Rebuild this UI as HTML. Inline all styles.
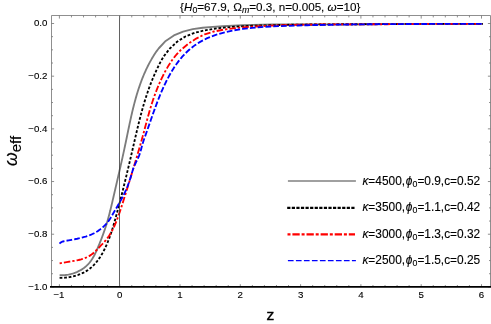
<!DOCTYPE html>
<html><head><meta charset="utf-8"><title>plot</title>
<style>
html,body{margin:0;padding:0;background:#fff;}
body{width:491px;height:324px;overflow:hidden;}
svg{display:block;will-change:transform;}
text{font-family:"Liberation Sans",sans-serif;fill:#000;stroke:#000;stroke-width:0.12px;}
.i{font-style:italic;}
</style></head><body>
<svg width="491" height="324" viewBox="0 0 491 324">
<rect width="491" height="324" fill="#fff"/>
<g fill="none" stroke-linejoin="round">
<path d="M59.60 275.29 L61.04 275.29 L62.50 275.24 L63.95 275.15 L65.41 275.00 L66.87 274.80 L68.32 274.56 L69.62 274.30 L69.77 274.26 L71.20 273.92 L72.62 273.52 L74.03 273.08 L75.41 272.59 L76.77 272.04 L78.11 271.45 L79.14 270.94 L79.41 270.80 L80.69 270.11 L81.93 269.36 L83.13 268.56 L84.29 267.71 L85.41 266.81 L86.48 265.86 L87.18 265.19 L87.50 264.86 L88.48 263.82 L89.42 262.73 L90.31 261.61 L91.16 260.45 L91.98 259.25 L92.75 258.03 L93.18 257.31 L93.49 256.78 L94.20 255.51 L94.87 254.22 L95.52 252.91 L96.14 251.59 L96.74 250.25 L97.32 248.92 L97.59 248.28 L97.89 247.57 L98.46 246.23 L99.02 244.88 L99.57 243.53 L100.11 242.18 L100.65 240.83 L101.18 239.47 L101.37 238.98 L101.70 238.12 L102.21 236.76 L102.72 235.40 L103.22 234.04 L103.70 232.67 L104.18 231.30 L104.66 229.93 L104.78 229.58 L105.12 228.56 L105.57 227.18 L106.01 225.81 L106.45 224.42 L106.87 223.04 L107.29 221.65 L107.69 220.26 L107.75 220.04 L108.09 218.86 L108.47 217.46 L108.85 216.06 L109.22 214.66 L109.58 213.25 L109.94 211.84 L110.29 210.43 L110.31 210.36 L110.64 209.02 L110.98 207.61 L111.32 206.19 L111.65 204.78 L111.99 203.36 L112.32 201.94 L112.62 200.61 L112.64 200.53 L112.97 199.11 L113.30 197.69 L113.62 196.28 L113.95 194.86 L114.27 193.45 L114.60 192.03 L114.88 190.85 L114.93 190.62 L115.26 189.20 L115.58 187.79 L115.91 186.37 L116.24 184.96 L116.56 183.54 L116.89 182.13 L117.13 181.10 L117.22 180.72 L117.54 179.30 L117.87 177.89 L118.19 176.48 L118.52 175.06 L118.84 173.65 L119.17 172.24 L119.37 171.35 L119.49 170.82 L119.81 169.41 L120.13 167.99 L120.46 166.58 L120.77 165.17 L121.09 163.75 L121.41 162.34 L121.58 161.60 L121.73 160.92 L122.04 159.50 L122.36 158.09 L122.67 156.67 L122.98 155.25 L123.29 153.83 L123.60 152.41 L123.73 151.83 L123.91 151.00 L124.22 149.58 L124.52 148.15 L124.82 146.73 L125.12 145.31 L125.42 143.89 L125.72 142.46 L125.81 142.03 L126.02 141.04 L126.31 139.61 L126.61 138.19 L126.90 136.76 L127.19 135.34 L127.49 133.91 L127.78 132.48 L127.84 132.20 L128.08 131.06 L128.37 129.63 L128.67 128.21 L128.97 126.78 L129.27 125.36 L129.57 123.93 L129.87 122.51 L129.90 122.37 L130.18 121.08 L130.49 119.66 L130.80 118.24 L131.12 116.82 L131.44 115.40 L131.76 113.99 L132.09 112.58 L132.09 112.57 L132.42 111.15 L132.76 109.74 L133.10 108.33 L133.45 106.92 L133.81 105.51 L134.17 104.11 L134.49 102.87 L134.53 102.71 L134.91 101.31 L135.29 99.91 L135.67 98.51 L136.07 97.12 L136.47 95.73 L136.88 94.34 L137.21 93.26 L137.30 92.95 L137.73 91.57 L138.16 90.19 L138.61 88.82 L139.06 87.45 L139.53 86.08 L140.00 84.71 L140.33 83.80 L140.49 83.35 L140.99 81.99 L141.49 80.64 L142.01 79.29 L142.54 77.94 L143.08 76.60 L143.63 75.26 L143.95 74.51 L144.20 73.93 L144.78 72.60 L145.37 71.28 L145.98 69.96 L146.59 68.65 L147.23 67.34 L147.87 66.03 L148.17 65.43 L148.53 64.73 L149.21 63.44 L149.90 62.15 L150.60 60.87 L151.33 59.59 L152.06 58.32 L152.82 57.06 L153.09 56.61 L153.59 55.80 L154.37 54.55 L155.18 53.31 L156.01 52.09 L156.85 50.88 L157.72 49.69 L158.61 48.52 L158.84 48.24 L165.70 40.98 L173.88 35.44 L183.05 31.56 L192.76 29.10 L202.68 27.72 L212.68 26.89 L222.69 26.24 L232.70 25.70 L242.70 25.28 L252.71 24.95 L262.72 24.71 L272.73 24.54 L282.73 24.43 L292.74 24.36 L302.75 24.34 L312.76 24.34 L322.77 24.35 L332.78 24.35 L342.80 24.35 L352.81 24.32 L362.82 24.28 L372.84 24.23 L382.86 24.16 L392.87 24.10 L402.89 24.03 L412.90 23.96 L422.92 23.90 L432.94 23.85 L442.95 23.82 L452.96 23.80 L462.98 23.81 L472.99 23.84 L483.00 23.90" stroke="#7c7c7c" stroke-width="1.85"/>
<path d="M59.60 277.90 L61.03 277.88 L62.47 277.83 L63.92 277.75 L65.38 277.63 L66.83 277.47 L68.28 277.28 L69.53 277.08 L69.74 277.05 L71.18 276.78 L72.62 276.47 L74.05 276.12 L75.47 275.74 L76.88 275.31 L78.27 274.85 L79.25 274.49 L79.64 274.34 L80.99 273.79 L82.32 273.20 L83.62 272.56 L84.90 271.89 L86.15 271.17 L87.36 270.40 L88.05 269.94 L88.55 269.59 L89.70 268.74 L90.81 267.84 L91.89 266.90 L92.93 265.92 L93.95 264.91 L94.93 263.86 L95.34 263.39 L95.88 262.78 L96.80 261.66 L97.69 260.52 L98.55 259.35 L99.39 258.15 L100.20 256.94 L100.98 255.70 L101.20 255.33 L101.73 254.44 L102.47 253.17 L103.17 251.88 L103.86 250.58 L104.52 249.27 L105.16 247.95 L105.79 246.62 L105.88 246.42 L106.39 245.29 L106.97 243.95 L107.53 242.61 L108.08 241.26 L108.61 239.91 L109.13 238.56 L109.63 237.20 L109.63 237.19 L110.12 235.83 L110.59 234.47 L111.06 233.09 L111.51 231.72 L111.95 230.34 L112.39 228.96 L112.75 227.76 L112.81 227.58 L113.23 226.19 L113.64 224.80 L114.05 223.41 L114.45 222.02 L114.85 220.63 L115.24 219.23 L115.52 218.22 L115.63 217.83 L116.02 216.43 L116.40 215.03 L116.78 213.63 L117.16 212.23 L117.54 210.83 L117.91 209.42 L118.13 208.60 L118.28 208.02 L118.65 206.61 L119.02 205.21 L119.38 203.80 L119.75 202.39 L120.11 200.99 L120.47 199.58 L120.63 198.96 L120.83 198.17 L121.19 196.76 L121.55 195.36 L121.90 193.95 L122.26 192.54 L122.61 191.13 L122.96 189.72 L123.07 189.30 L123.31 188.31 L123.66 186.90 L124.01 185.50 L124.35 184.09 L124.70 182.68 L125.04 181.27 L125.39 179.85 L125.44 179.63 L125.73 178.44 L126.07 177.03 L126.41 175.62 L126.75 174.21 L127.09 172.80 L127.42 171.39 L127.76 169.97 L127.77 169.95 L128.10 168.56 L128.43 167.15 L128.76 165.74 L129.10 164.32 L129.43 162.91 L129.76 161.50 L130.05 160.26 L130.09 160.08 L130.43 158.67 L130.76 157.25 L131.09 155.84 L131.41 154.43 L131.74 153.01 L132.07 151.60 L132.31 150.56 L132.40 150.18 L132.73 148.77 L133.05 147.35 L133.38 145.93 L133.71 144.52 L134.04 143.10 L134.36 141.68 L134.55 140.85 L134.69 140.27 L135.02 138.85 L135.34 137.44 L135.67 136.02 L136.00 134.60 L136.33 133.19 L136.66 131.77 L136.81 131.14 L137.00 130.36 L137.33 128.94 L137.67 127.53 L138.01 126.12 L138.36 124.70 L138.70 123.29 L139.05 121.88 L139.16 121.45 L139.40 120.47 L139.76 119.07 L140.12 117.66 L140.48 116.25 L140.85 114.85 L141.22 113.44 L141.60 112.04 L141.66 111.81 L141.98 110.64 L142.37 109.24 L142.76 107.85 L143.16 106.45 L143.56 105.06 L143.97 103.66 L144.38 102.27 L144.39 102.24 L144.80 100.89 L145.23 99.50 L145.67 98.12 L146.11 96.74 L146.56 95.36 L147.01 93.98 L147.42 92.77 L147.48 92.61 L147.95 91.24 L148.43 89.87 L148.92 88.50 L149.41 87.14 L149.92 85.78 L150.43 84.42 L150.82 83.41 L150.96 83.06 L151.49 81.71 L152.03 80.36 L152.58 79.02 L153.13 77.68 L153.70 76.34 L154.28 75.00 L154.63 74.20 L154.86 73.67 L155.46 72.34 L156.06 71.01 L156.67 69.69 L157.30 68.37 L157.93 67.06 L158.57 65.75 L158.87 65.15 L159.23 64.44 L159.90 63.14 L160.58 61.86 L161.29 60.58 L162.01 59.31 L162.76 58.06 L163.53 56.83 L163.78 56.44 L164.33 55.61 L169.84 48.53 L177.08 41.77 L185.41 36.47 L194.67 32.82 L204.39 30.39 L214.21 28.74 L224.09 27.59 L234.01 26.75 L243.94 26.15 L253.89 25.72 L263.85 25.39 L273.81 25.12 L283.77 24.89 L293.73 24.71 L303.69 24.57 L313.65 24.46 L323.61 24.37 L333.57 24.31 L343.53 24.26 L353.50 24.22 L363.46 24.19 L373.42 24.15 L383.38 24.11 L393.35 24.07 L403.31 24.02 L413.27 23.98 L423.23 23.94 L433.19 23.90 L443.15 23.88 L453.11 23.86 L463.08 23.86 L473.04 23.87 L483.00 23.90" stroke="#000" stroke-width="1.85" stroke-dasharray="2.75 1.8"/>
<path d="M59.60 263.40 L60.97 263.10 L62.36 262.82 L63.77 262.57 L65.20 262.32 L66.64 262.09 L68.09 261.87 L69.00 261.73 L69.55 261.64 L71.01 261.42 L72.47 261.18 L73.93 260.93 L75.39 260.67 L76.84 260.38 L78.28 260.07 L78.64 259.99 L79.71 259.73 L81.12 259.36 L82.51 258.94 L83.88 258.48 L85.22 257.98 L86.53 257.42 L87.66 256.88 L87.82 256.80 L89.07 256.12 L90.28 255.38 L91.45 254.57 L92.59 253.69 L93.70 252.77 L94.78 251.80 L95.31 251.30 L95.84 250.79 L96.88 249.75 L97.91 248.69 L98.93 247.62 L99.94 246.55 L100.96 245.48 L101.98 244.42 L102.10 244.28 L102.98 243.35 L103.98 242.28 L104.95 241.19 L105.88 240.09 L106.79 238.96 L107.65 237.81 L108.28 236.93 L108.49 236.63 L109.29 235.44 L110.06 234.22 L110.80 232.99 L111.52 231.73 L112.20 230.47 L112.87 229.18 L113.11 228.70 L113.51 227.89 L114.13 226.57 L114.72 225.25 L115.30 223.92 L115.86 222.58 L116.41 221.22 L116.93 219.87 L116.94 219.86 L117.45 218.50 L117.95 217.13 L118.45 215.76 L118.93 214.38 L119.41 213.00 L119.88 211.63 L120.17 210.76 L120.34 210.25 L120.80 208.87 L121.25 207.48 L121.70 206.10 L122.14 204.72 L122.58 203.34 L123.02 201.95 L123.13 201.61 L123.45 200.57 L123.88 199.19 L124.32 197.80 L124.75 196.42 L125.18 195.03 L125.61 193.65 L125.98 192.43 L126.04 192.26 L126.47 190.88 L126.90 189.49 L127.32 188.11 L127.75 186.72 L128.18 185.33 L128.61 183.95 L128.83 183.25 L129.04 182.56 L129.47 181.17 L129.90 179.79 L130.32 178.40 L130.75 177.01 L131.18 175.62 L131.60 174.23 L131.65 174.06 L132.02 172.84 L132.45 171.46 L132.87 170.07 L133.29 168.68 L133.71 167.29 L134.13 165.90 L134.45 164.85 L134.55 164.50 L134.97 163.11 L135.39 161.72 L135.80 160.33 L136.22 158.94 L136.63 157.54 L137.04 156.15 L137.19 155.62 L137.45 154.76 L137.86 153.36 L138.26 151.97 L138.67 150.57 L139.07 149.18 L139.47 147.78 L139.87 146.38 L139.87 146.38 L140.27 144.99 L140.67 143.59 L141.06 142.19 L141.45 140.79 L141.84 139.39 L142.23 138.00 L142.47 137.11 L142.62 136.60 L143.00 135.19 L143.38 133.79 L143.76 132.39 L144.14 130.99 L144.51 129.59 L144.89 128.18 L144.98 127.83 L145.26 126.78 L145.63 125.38 L146.01 123.98 L146.38 122.57 L146.76 121.17 L147.14 119.77 L147.47 118.54 L147.52 118.37 L147.90 116.97 L148.29 115.57 L148.68 114.17 L149.07 112.78 L149.48 111.38 L149.88 109.99 L150.09 109.29 L150.29 108.60 L150.71 107.21 L151.14 105.82 L151.57 104.44 L152.01 103.05 L152.46 101.67 L152.91 100.29 L152.97 100.11 L153.38 98.92 L153.86 97.54 L154.34 96.17 L154.84 94.81 L155.34 93.44 L155.86 92.08 L156.25 91.06 L156.38 90.73 L156.92 89.37 L157.46 88.02 L158.02 86.68 L158.58 85.34 L159.15 84.00 L159.74 82.67 L159.96 82.16 L160.33 81.34 L160.94 80.01 L161.55 78.69 L162.18 77.38 L162.81 76.07 L163.46 74.76 L164.12 73.46 L164.12 73.46 L164.79 72.17 L165.48 70.89 L166.17 69.62 L166.89 68.36 L167.62 67.10 L168.36 65.86 L168.84 65.08 L169.13 64.63 L169.91 63.41 L170.70 62.20 L171.52 61.01 L172.36 59.83 L173.21 58.66 L174.09 57.52 L174.32 57.22 L174.98 56.38 L175.90 55.27 L176.85 54.17 L177.81 53.09 L178.80 52.03 L179.82 50.99 L180.73 50.09 L180.85 49.97 L188.14 43.88 L196.19 38.59 L204.75 34.27 L213.91 31.50 L223.38 29.70 L232.94 28.39 L242.51 27.45 L252.10 26.73 L261.70 26.14 L271.30 25.66 L280.91 25.28 L290.53 24.98 L300.14 24.75 L309.77 24.59 L319.39 24.48 L329.02 24.41 L338.65 24.37 L348.28 24.34 L357.90 24.33 L367.53 24.30 L377.16 24.27 L386.78 24.21 L396.40 24.15 L406.02 24.08 L415.64 24.02 L425.26 23.95 L434.88 23.89 L444.50 23.85 L454.12 23.83 L463.75 23.82 L473.37 23.85 L483.00 23.90" stroke="#f00" stroke-width="1.85" stroke-dasharray="2.3 2.05 6.5 2.05"/>
<path d="M59.49 243.69 L60.53 242.66 L61.73 241.95 L63.04 241.48 L64.42 241.15 L65.84 240.88 L67.25 240.62 L67.77 240.52 L68.68 240.36 L70.10 240.10 L71.53 239.84 L72.96 239.57 L74.39 239.30 L75.82 239.01 L76.86 238.80 L77.25 238.72 L78.67 238.41 L80.09 238.08 L81.50 237.74 L82.90 237.37 L84.30 236.98 L85.69 236.56 L85.81 236.52 L87.06 236.11 L88.43 235.63 L89.78 235.12 L91.12 234.57 L92.44 233.98 L93.75 233.35 L94.34 233.05 L95.04 232.67 L96.32 231.95 L97.57 231.18 L98.80 230.37 L100.00 229.51 L101.17 228.62 L102.10 227.86 L102.31 227.68 L103.42 226.70 L104.48 225.69 L105.51 224.64 L106.49 223.56 L107.42 222.44 L108.30 221.30 L108.45 221.09 L109.14 220.12 L109.93 218.92 L110.70 217.71 L111.44 216.47 L112.17 215.23 L112.89 213.98 L113.28 213.31 L113.61 212.73 L114.35 211.48 L115.08 210.23 L115.82 208.97 L116.56 207.72 L117.30 206.46 L117.97 205.33 L118.04 205.20 L118.77 203.94 L119.50 202.68 L120.21 201.41 L120.92 200.13 L121.62 198.85 L122.30 197.57 L122.48 197.23 L122.97 196.28 L123.62 194.98 L124.26 193.68 L124.88 192.37 L125.48 191.05 L126.07 189.73 L126.43 188.90 L126.64 188.40 L127.20 187.07 L127.73 185.72 L128.25 184.37 L128.76 183.01 L129.24 181.65 L129.70 180.29 L129.71 180.27 L130.16 178.89 L130.59 177.50 L131.01 176.11 L131.41 174.71 L131.81 173.30 L132.22 171.90 L132.37 171.41 L132.65 170.51 L133.10 169.13 L133.58 167.76 L134.11 166.40 L134.68 165.07 L135.29 163.75 L135.75 162.82 L135.93 162.45 L136.58 161.15 L137.23 159.85 L137.86 158.54 L138.46 157.22 L139.02 155.88 L139.53 154.53 L139.57 154.42 L139.99 153.15 L140.42 151.76 L140.82 150.36 L141.20 148.95 L141.57 147.54 L141.95 146.13 L142.12 145.51 L142.34 144.73 L142.75 143.33 L143.18 141.95 L143.62 140.57 L144.09 139.19 L144.56 137.83 L144.95 136.73 L145.04 136.46 L145.53 135.10 L146.02 133.73 L146.50 132.37 L146.99 131.00 L147.47 129.64 L147.95 128.27 L148.03 128.04 L148.43 126.90 L148.91 125.52 L149.39 124.15 L149.87 122.78 L150.35 121.41 L150.82 120.03 L151.08 119.30 L151.30 118.66 L151.78 117.29 L152.26 115.91 L152.75 114.54 L153.23 113.17 L153.72 111.80 L154.16 110.57 L154.21 110.43 L154.71 109.06 L155.21 107.69 L155.71 106.33 L156.21 104.96 L156.73 103.60 L157.24 102.24 L157.37 101.89 L157.76 100.88 L158.29 99.53 L158.82 98.18 L159.36 96.83 L159.91 95.48 L160.47 94.14 L160.81 93.31 L161.03 92.80 L161.60 91.47 L162.17 90.13 L162.76 88.81 L163.36 87.48 L163.96 86.16 L164.56 84.87 L164.57 84.85 L165.20 83.54 L165.83 82.24 L166.48 80.94 L167.14 79.64 L167.80 78.35 L168.48 77.07 L168.72 76.63 L169.18 75.79 L169.88 74.52 L170.60 73.26 L171.33 72.01 L172.08 70.76 L172.84 69.53 L173.38 68.66 L173.61 68.30 L174.40 67.08 L175.21 65.88 L176.03 64.69 L176.87 63.51 L177.73 62.34 L178.60 61.18 L178.66 61.10 L179.49 60.04 L180.40 58.92 L181.33 57.81 L182.28 56.71 L183.25 55.63 L184.23 54.57 L184.67 54.12 L185.24 53.53 L186.27 52.50 L187.32 51.49 L188.39 50.51 L189.49 49.54 L190.60 48.59 L191.51 47.85 L191.74 47.67 L192.89 46.76 L194.07 45.88 L195.25 45.03 L196.46 44.20 L197.68 43.39 L198.91 42.61 L199.11 42.49 L200.16 41.86 L207.26 38.19 L215.81 34.86 L224.67 32.31 L233.70 30.38 L242.85 28.91 L252.04 27.84 L261.25 27.07 L270.47 26.54 L279.70 26.15 L288.93 25.81 L298.16 25.52 L307.40 25.26 L316.64 25.04 L325.88 24.85 L335.12 24.69 L344.37 24.55 L353.61 24.43 L362.85 24.33 L372.10 24.25 L381.34 24.18 L390.58 24.12 L399.83 24.06 L409.07 24.02 L418.31 23.98 L427.55 23.95 L436.79 23.93 L446.03 23.91 L455.27 23.90 L464.51 23.89 L473.76 23.89 L483.00 23.90" stroke="#00f" stroke-width="1.85" stroke-dasharray="5.7 2.1"/>
</g>
<line x1="119.5" y1="15.50" x2="119.5" y2="286.90" stroke="#3a3a3a" stroke-width="0.8"/>
<g stroke="#727272" stroke-width="0.8" fill="none">
<path d="M51.50 286.90 V15.50 H490.50 V286.90"/>
<path d="M59.40 15.50v3.10M59.40 286.90v-2.70M71.46 15.50v1.90M71.46 286.90v-1.90M83.52 15.50v1.90M83.52 286.90v-1.90M95.58 15.50v1.90M95.58 286.90v-1.90M107.64 15.50v1.90M107.64 286.90v-1.90M119.70 15.50v3.10M119.70 286.90v-2.70M131.76 15.50v1.90M131.76 286.90v-1.90M143.82 15.50v1.90M143.82 286.90v-1.90M155.88 15.50v1.90M155.88 286.90v-1.90M167.94 15.50v1.90M167.94 286.90v-1.90M180.00 15.50v3.10M180.00 286.90v-2.70M192.06 15.50v1.90M192.06 286.90v-1.90M204.12 15.50v1.90M204.12 286.90v-1.90M216.18 15.50v1.90M216.18 286.90v-1.90M228.24 15.50v1.90M228.24 286.90v-1.90M240.30 15.50v3.10M240.30 286.90v-2.70M252.36 15.50v1.90M252.36 286.90v-1.90M264.42 15.50v1.90M264.42 286.90v-1.90M276.48 15.50v1.90M276.48 286.90v-1.90M288.54 15.50v1.90M288.54 286.90v-1.90M300.60 15.50v3.10M300.60 286.90v-2.70M312.66 15.50v1.90M312.66 286.90v-1.90M324.72 15.50v1.90M324.72 286.90v-1.90M336.78 15.50v1.90M336.78 286.90v-1.90M348.84 15.50v1.90M348.84 286.90v-1.90M360.90 15.50v3.10M360.90 286.90v-2.70M372.96 15.50v1.90M372.96 286.90v-1.90M385.02 15.50v1.90M385.02 286.90v-1.90M397.08 15.50v1.90M397.08 286.90v-1.90M409.14 15.50v1.90M409.14 286.90v-1.90M421.20 15.50v3.10M421.20 286.90v-2.70M433.26 15.50v1.90M433.26 286.90v-1.90M445.32 15.50v1.90M445.32 286.90v-1.90M457.38 15.50v1.90M457.38 286.90v-1.90M469.44 15.50v1.90M469.44 286.90v-1.90M481.50 15.50v3.10M481.50 286.90v-2.70M51.50 23.50h2.60M490.50 23.50h-2.60M51.50 36.67h1.50M490.50 36.67h-1.50M51.50 49.84h1.50M490.50 49.84h-1.50M51.50 63.01h1.50M490.50 63.01h-1.50M51.50 76.18h2.60M490.50 76.18h-2.60M51.50 89.35h1.50M490.50 89.35h-1.50M51.50 102.52h1.50M490.50 102.52h-1.50M51.50 115.69h1.50M490.50 115.69h-1.50M51.50 128.86h2.60M490.50 128.86h-2.60M51.50 142.03h1.50M490.50 142.03h-1.50M51.50 155.20h1.50M490.50 155.20h-1.50M51.50 168.37h1.50M490.50 168.37h-1.50M51.50 181.54h2.60M490.50 181.54h-2.60M51.50 194.71h1.50M490.50 194.71h-1.50M51.50 207.88h1.50M490.50 207.88h-1.50M51.50 221.05h1.50M490.50 221.05h-1.50M51.50 234.22h2.60M490.50 234.22h-2.60M51.50 247.39h1.50M490.50 247.39h-1.50M51.50 260.56h1.50M490.50 260.56h-1.50M51.50 273.73h1.50M490.50 273.73h-1.50M51.50 286.90h2.60M490.50 286.90h-2.60"/>
</g>
<line x1="50.0" y1="286.90" x2="491" y2="286.90" stroke="#000" stroke-width="1.9"/>
<g font-size="9.7">
<text x="47.4" y="26.30" text-anchor="end">0.0</text>
<text x="47.4" y="78.98" text-anchor="end">−0.2</text>
<text x="47.4" y="131.66" text-anchor="end">−0.4</text>
<text x="47.4" y="184.34" text-anchor="end">−0.6</text>
<text x="47.4" y="237.02" text-anchor="end">−0.8</text>
<text x="47.4" y="289.70" text-anchor="end">−1.0</text>
<text x="58.90" y="297.5" text-anchor="middle">−1</text>
<text x="119.70" y="297.5" text-anchor="middle">0</text>
<text x="180.00" y="297.5" text-anchor="middle">1</text>
<text x="240.30" y="297.5" text-anchor="middle">2</text>
<text x="300.60" y="297.5" text-anchor="middle">3</text>
<text x="360.90" y="297.5" text-anchor="middle">4</text>
<text x="421.20" y="297.5" text-anchor="middle">5</text>
<text x="481.50" y="297.5" text-anchor="middle">6</text>
</g>
<text x="270.2" y="11.1" font-size="11.65" text-anchor="middle">{<tspan class="i">H</tspan><tspan font-size="8.8" dy="2.2">0</tspan><tspan dy="-2.2">=67.9, Ω</tspan><tspan class="i" font-size="8.8" dy="2.2">m</tspan><tspan dy="-2.2">=0.3, n=0.005, </tspan><tspan class="i">ω</tspan>=10}</text>
<text transform="translate(270.25 320) scale(1.08 1)" x="0" y="0" font-size="14.3" text-anchor="middle" style="stroke-width:0.4px">z</text>
<text transform="translate(16.6 166) rotate(-90)" font-size="17.5"><tspan class="i">ω</tspan><tspan font-size="15" dy="4.2">eff</tspan></text>
<g fill="none">
<line x1="287.9" x2="355.9" y1="181.00" y2="181.00" stroke="#808080" stroke-width="1.5"/>
<line x1="287.2" x2="355" y1="207.80" y2="207.80" stroke="#000" stroke-width="2.2" stroke-dasharray="3.2 1.38"/>
<line x1="287.5" x2="355" y1="234.30" y2="234.30" stroke="#f00" stroke-width="2.2" stroke-dasharray="3 1.9 7.3 1.9"/>
<line x1="287.9" x2="355.9" y1="260.70" y2="260.70" stroke="#00f" stroke-width="1.3" stroke-dasharray="5.7 2.3"/>
</g>
<g font-size="11.9">
<text x="362.4" y="184.60"><tspan class="i">κ</tspan>=4500,<tspan class="i" dx="0.8">ϕ</tspan><tspan font-size="8.8" dy="2">0</tspan><tspan dy="-2">=0.9,c=0.52</tspan></text>
<text x="362.4" y="211.40"><tspan class="i">κ</tspan>=3500,<tspan class="i" dx="0.8">ϕ</tspan><tspan font-size="8.8" dy="2">0</tspan><tspan dy="-2">=1.1,c=0.42</tspan></text>
<text x="362.4" y="237.90"><tspan class="i">κ</tspan>=3000,<tspan class="i" dx="0.8">ϕ</tspan><tspan font-size="8.8" dy="2">0</tspan><tspan dy="-2">=1.3,c=0.32</tspan></text>
<text x="362.4" y="264.30"><tspan class="i">κ</tspan>=2500,<tspan class="i" dx="0.8">ϕ</tspan><tspan font-size="8.8" dy="2">0</tspan><tspan dy="-2">=1.5,c=0.25</tspan></text>
</g>
</svg></body></html>
